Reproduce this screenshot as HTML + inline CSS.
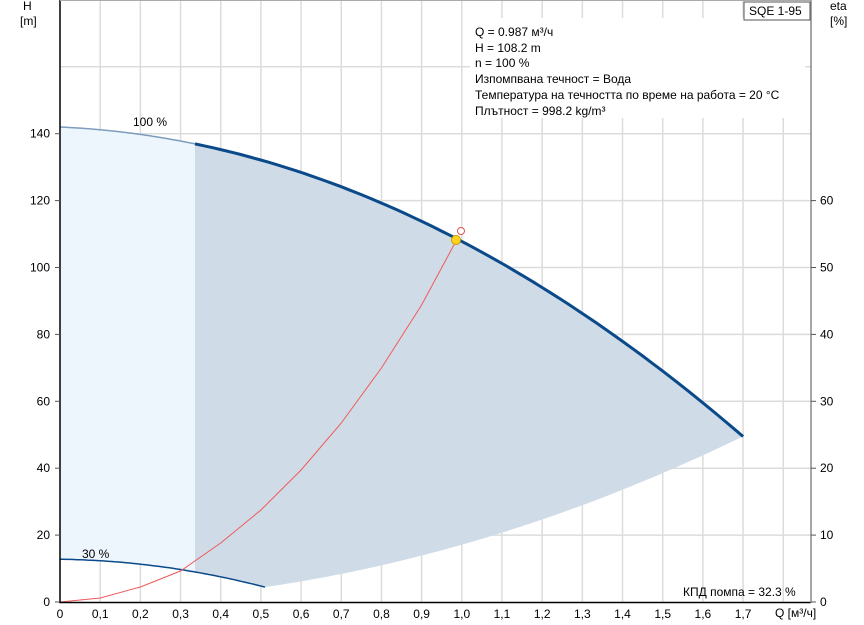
<!DOCTYPE html>
<html><head><meta charset="utf-8"><style>
body{margin:0;background:#fff}
svg{display:block;font-family:"Liberation Sans",sans-serif;font-size:12px}
</style></head><body>
<svg width="864" height="625" viewBox="0 0 864 625" xmlns="http://www.w3.org/2000/svg">
<rect x="0" y="0" width="864" height="625" fill="#fff"/>
<g id="grid" stroke="#dcdcdc" stroke-width="1.5"></g>
<path id="light" fill="#eef6fd"/>
<path id="dark" fill="#cfdbe6"/>
<path id="c30" fill="none" stroke="#0a4a8a" stroke-width="1.5"/>
<path id="c100a" fill="none" stroke="#7d9cbd" stroke-width="1.5"/>
<path id="c100b" fill="none" stroke="#0a4a8a" stroke-width="3"/>
<path id="eta" fill="none" stroke="#f05a5a" stroke-width="1"/>
<rect x="470" y="18" width="335" height="100" fill="#fff"/>
<line x1="60" y1="0" x2="60" y2="603" stroke="#000" stroke-width="1.5"/>
<line x1="59" y1="602.5" x2="811" y2="602.5" stroke="#000" stroke-width="1.5"/>
<line x1="811" y1="0" x2="811" y2="603" stroke="#888" stroke-width="1.5"/>
<line x1="60" y1="0.5" x2="811" y2="0.5" stroke="#aaa" stroke-width="1"/>
<g id="ticks" fill="#000"></g>
<circle cx="461" cy="231" r="3.5" fill="#fff" stroke="#e05050"/>
<circle cx="456" cy="240" r="4.5" fill="#ffd21e" stroke="#c8a000"/>
<text x="23" y="10">H</text><text x="20" y="25">[m]</text>
<text x="830" y="10">eta</text><text x="830" y="25">[%]</text>
<rect x="744" y="2" width="66" height="18" fill="#fff" stroke="#555"/>
<text x="749" y="15">SQE 1-95</text>
<text x="133" y="126">100 %</text>
<text x="82" y="558">30 %</text>
<g>
<text x="475" y="36">Q = 0.987 м³/ч</text>
<text x="475" y="52">H = 108.2 m</text>
<text x="475" y="67">n = 100 %</text>
<text x="475" y="83">Изпомпвана течност = Вода</text>
<text x="475" y="99">Температура на течността по време на работа = 20 °C</text>
<text x="475" y="115">Плътност = 998.2 kg/m³</text>
</g>
<text x="683" y="596">КПД помпа = 32.3 %</text>
<text x="775" y="617">Q [м³/ч]</text>
</svg>
<script>
const X=q=>60+q*401.8, Y=h=>602-h*3.345;
const H100=q=>142-5.3*q-28.9*q*q, H30=q=>12.78-1.59*q-28.9*q*q;
const ns="http://www.w3.org/2000/svg";
function pts(f,a,b,n=60){let s=[];for(let i=0;i<=n;i++){let q=a+(b-a)*i/n;s.push(X(q).toFixed(1)+","+Y(f(q)).toFixed(1));}return s;}
document.getElementById('c100a').setAttribute('d','M'+pts(H100,0,0.336).join('L'));
document.getElementById('c100b').setAttribute('d','M'+pts(H100,0.336,1.7).join('L'));
document.getElementById('c30').setAttribute('d','M'+pts(H30,0,0.51).join('L'));
document.getElementById('light').setAttribute('d','M'+pts(H100,0,0.336).join('L')+'L'+pts(H30,0.336,0).join('L')+'Z');
document.getElementById('dark').setAttribute('d','M'+pts(H100,0.336,1.7).join('L')+'L'+pts(q=>17.13*q*q,1.7,0.51).join('L')+'L'+pts(H30,0.51,0.336).join('L')+'Z');
const ep=[[0,602],[0.1,598],[0.2,587],[0.3,571],[0.4,543],[0.5,510],[0.6,470],[0.7,423],[0.8,368],[0.9,305],[0.987,240]];
document.getElementById('eta').setAttribute('d','M'+ep.map(p=>X(p[0]).toFixed(1)+','+p[1]).join('L'));
const g=document.getElementById('grid'),t=document.getElementById('ticks');
function el(p,tag,a,txt){const e=document.createElementNS(ns,tag);for(const k in a)e.setAttribute(k,a[k]);if(txt!=null)e.textContent=txt;p.appendChild(e);}
for(let i=1;i<=18;i++){el(g,'line',{x1:X(i/10),x2:X(i/10),y1:0,y2:602});}
for(let h=20;h<=160;h+=20){el(g,'line',{x1:60,x2:811,y1:Y(h),y2:Y(h)});}
for(let i=0;i<=17;i++){el(t,'text',{x:X(i/10),y:618,'text-anchor':'middle'},i==0?'0':(i/10).toFixed(1).replace('.',','));}
for(let h=0;h<=140;h+=20){el(t,'text',{x:50,y:Y(h)+4,'text-anchor':'end'},String(h));el(t,'line',{x1:55,x2:60,y1:Y(h),y2:Y(h),stroke:'#555'});}
for(let e=0;e<=60;e+=10){el(t,'text',{x:820,y:Y(e*2)+4},String(e));el(t,'line',{x1:811,x2:816,y1:Y(e*2),y2:Y(e*2),stroke:'#555'});}
</script>
</body></html>
